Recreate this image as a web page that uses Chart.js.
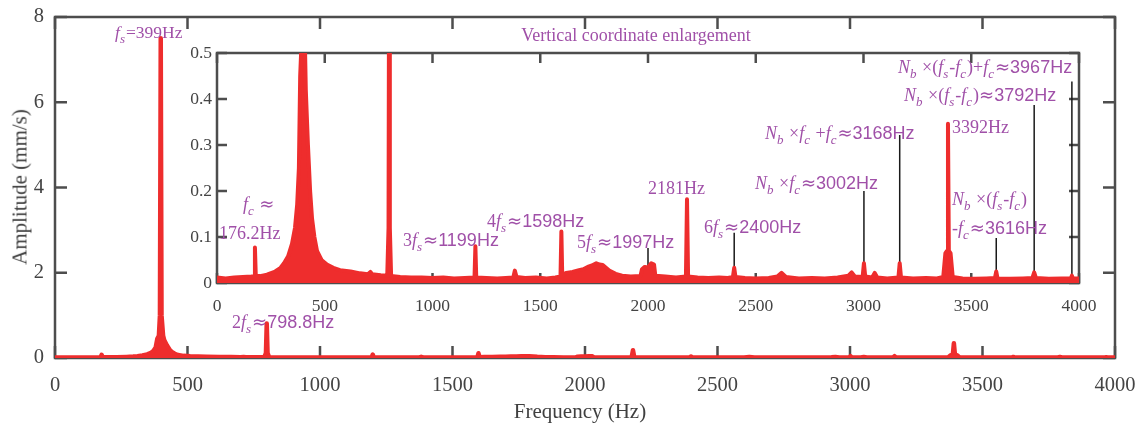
<!DOCTYPE html>
<html><head><meta charset="utf-8">
<script src="https://cdn.jsdelivr.net/npm/chart.js@4.4.1/dist/chart.umd.min.js"></script>
<style>
html,body{margin:0;padding:0;background:#fff;}
#wrap{position:relative;width:1140px;height:423px;overflow:hidden;background:#fff;}
canvas{position:absolute;left:0;top:0;}
.lbl{position:absolute;white-space:nowrap;color:#a050a8;font-family:'Liberation Serif',serif;font-size:18px;line-height:1;transform:translateY(-50%);}
.i{font-style:italic}
.sub{font-style:italic;font-size:13px;position:relative;top:5px;margin-right:1px}
.ss{font-family:'Liberation Sans',sans-serif}
.ap{font-family:'DejaVu Sans',sans-serif}
.ax{position:absolute;white-space:nowrap;color:#404040;font-family:'Liberation Serif',serif;font-size:21px;line-height:1;}
</style></head>
<body><div id="wrap">
<canvas id="main" width="1140" height="423"></canvas>
<canvas id="inset" width="1140" height="423"></canvas>

<div class="ax" style="left:580px;top:411px;transform:translate(-50%,-50%)">Frequency (Hz)</div>
<div class="ax" style="left:20px;top:187px;transform:translate(-50%,-50%) rotate(-90deg)">Amplitude (mm/s)</div>

<div class="lbl" style="left:636px;top:35px;transform:translate(-50%,-50%)">Vertical coordinate enlargement</div>

<div class="lbl" style="left:115px;top:33px;font-size:17.5px"><span class="i">f</span><span class="sub">s</span>=399Hz</div>
<div class="lbl" style="left:232px;top:322px">2<span class="i">f</span><span class="sub">s</span><span class="ap">≈</span><span class="ss">798.8Hz</span></div>
<div class="lbl" style="left:243px;top:204px"><span class="i">f</span><span class="sub">c</span> <span class="ap">≈</span></div>
<div class="lbl" style="left:219px;top:233px">176.2Hz</div>
<div class="lbl" style="left:403px;top:240px">3<span class="i">f</span><span class="sub">s</span><span class="ap">≈</span><span class="ss">1199Hz</span></div>
<div class="lbl" style="left:487px;top:221px">4<span class="i">f</span><span class="sub">s</span><span class="ap">≈</span><span class="ss">1598Hz</span></div>
<div class="lbl" style="left:577px;top:242px">5<span class="i">f</span><span class="sub">s</span><span class="ap">≈</span><span class="ss">1997Hz</span></div>
<div class="lbl" style="left:648px;top:188px">2181Hz</div>
<div class="lbl" style="left:704px;top:227px">6<span class="i">f</span><span class="sub">s</span><span class="ap">≈</span><span class="ss">2400Hz</span></div>
<div class="lbl" style="left:755px;top:183px"><span class="i">N</span><span class="sub">b</span> ×<span class="i">f</span><span class="sub">c</span><span class="ap">≈</span><span class="ss">3002Hz</span></div>
<div class="lbl" style="left:765px;top:133px"><span class="i">N</span><span class="sub">b</span> ×<span class="i">f</span><span class="sub">c</span> +<span class="i">f</span><span class="sub">c</span><span class="ap">≈</span><span class="ss">3168Hz</span></div>
<div class="lbl" style="left:952px;top:127px">3392Hz</div>
<div class="lbl" style="left:952px;top:199px"><span class="i">N</span><span class="sub">b</span> ×(<span class="i">f</span><span class="sub">s</span>-<span class="i">f</span><span class="sub">c</span>)</div>
<div class="lbl" style="left:952px;top:228px">-<span class="i">f</span><span class="sub">c</span><span class="ap">≈</span><span class="ss">3616Hz</span></div>
<div class="lbl" style="left:904px;top:95px"><span class="i">N</span><span class="sub">b</span> ×(<span class="i">f</span><span class="sub">s</span>-<span class="i">f</span><span class="sub">c</span>)<span class="ap">≈</span><span class="ss">3792Hz</span></div>
<div class="lbl" style="left:898px;top:67px"><span class="i">N</span><span class="sub">b</span> ×(<span class="i">f</span><span class="sub">s</span>-<span class="i">f</span><span class="sub">c</span>)+<span class="i">f</span><span class="sub">c</span><span class="ap">≈</span><span class="ss">3967Hz</span></div>
</div>
<script>
// ---- data ----
const freqHz = [
  0, 40, 80, 120, 160, 172, 176, 180, 200, 232, 270, 295, 311, 330, 348, 362, 372, 380, 386, 392, 396, 399,
  402, 408, 412, 422, 432, 441, 452, 464, 485, 510, 540, 571, 620, 664, 700, 712, 720, 760, 790, 796, 799,
  802, 808, 850, 900, 950, 1000, 1050, 1100, 1150, 1195, 1199, 1203, 1250, 1300, 1340, 1375, 1382, 1390,
  1430, 1480, 1530, 1570, 1594, 1598, 1602, 1620, 1650, 1680, 1700, 1720, 1740, 1760, 1775, 1790, 1805,
  1820, 1850, 1880, 1920, 1965, 1972, 1985, 2000, 2015, 2028, 2034, 2080, 2130, 2176, 2181, 2186, 2230,
  2280, 2330, 2370, 2394, 2400, 2406, 2450, 2500, 2560, 2600, 2620, 2640, 2700, 2760, 2820, 2880, 2930,
  2945, 2960, 2996, 3002, 3008, 3040, 3052, 3064, 3110, 3162, 3168, 3174, 3230, 3290, 3340, 3370, 3380,
  3388, 3392, 3396, 3404, 3414, 3460, 3520, 3570, 3610, 3616, 3622, 3680, 3740, 3784, 3792, 3800, 3860,
  3920, 3962, 3967, 3972, 4000
];
const amplitude = [
  0.012, 0.010, 0.012, 0.013, 0.014, 0.015, 0.077, 0.015, 0.015, 0.018, 0.025, 0.033, 0.043, 0.058, 0.085, 0.12, 0.17, 0.25, 0.45, 0.52, 1.0, 7.5,
  1.0, 0.52, 0.42, 0.3, 0.2, 0.14, 0.1, 0.07, 0.05, 0.04, 0.033, 0.028, 0.025, 0.021, 0.019, 0.024, 0.019, 0.017, 0.016, 0.12, 0.81,
  0.12, 0.015, 0.013, 0.012, 0.012, 0.011, 0.012, 0.010, 0.011, 0.012, 0.08, 0.012, 0.011, 0.010, 0.011, 0.012, 0.027, 0.013,
  0.011, 0.012, 0.010, 0.012, 0.014, 0.112, 0.016, 0.022, 0.024, 0.028, 0.030, 0.035, 0.038, 0.043, 0.040, 0.039, 0.033,
  0.027, 0.020, 0.016, 0.014, 0.015, 0.030, 0.035, 0.034, 0.043, 0.040, 0.016, 0.014, 0.012, 0.014, 0.182, 0.014, 0.012,
  0.011, 0.012, 0.011, 0.013, 0.033, 0.013, 0.011, 0.010, 0.011, 0.014, 0.022, 0.013, 0.010, 0.011, 0.010, 0.012, 0.016,
  0.023, 0.014, 0.013, 0.043, 0.014, 0.012, 0.022, 0.012, 0.010, 0.012, 0.043, 0.012, 0.010, 0.011, 0.010, 0.013, 0.065,
  0.070, 0.346, 0.070, 0.065, 0.013, 0.010, 0.009, 0.010, 0.011, 0.025, 0.010, 0.009, 0.010, 0.011, 0.023, 0.011, 0.009,
  0.010, 0.010, 0.016, 0.010, 0.010
];
// annotation leader lines in the enlarged view (frequency, lower end, upper end)
const leaderFreq   = [2000, 2400, 3002, 3168, 3616, 3792, 3967];
const leaderBottom = [0.035, 0.030, 0.040, 0.040, 0.022, 0.020, 0.014];
const leaderTop    = [0.076, 0.109, 0.200, 0.322, 0.098, 0.387, 0.438];

const xTicks      = [0, 500, 1000, 1500, 2000, 2500, 3000, 3500, 4000];
const mainYTicks  = [0, 2, 4, 6, 8];
const insetYTicks = [0, 0.1, 0.2, 0.3, 0.4, 0.5];

// ---- rendering ----
const RED = '#ee2d2d';
const AXIS = '#4d4d4d';
const TICKTXT = '#444444';
Chart.defaults.font.family = "'Liberation Serif', serif";
Chart.defaults.color = TICKTXT;

const spectrum = freqHz.map((f, i) => ({x: f, y: amplitude[i]}));
const leaders = [];
leaderFreq.forEach((f, i) => {
  leaders.push({x: f, y: leaderBottom[i]}, {x: f, y: leaderTop[i]}, {x: f, y: null});
});

const boxTicks = {
  id: 'boxTicks',
  beforeDatasetsDraw(chart, args, o) {
    const {ctx, chartArea: a, scales: {x, y}} = chart;
    ctx.save();
    ctx.strokeStyle = o.color; ctx.lineWidth = o.width; ctx.lineCap = 'butt';
    ctx.beginPath();
    x.ticks.forEach(t => {
      const p = x.getPixelForValue(t.value);
      ctx.moveTo(p, a.bottom); ctx.lineTo(p, a.bottom - o.len);
      ctx.moveTo(p, a.top); ctx.lineTo(p, a.top + o.len);
    });
    y.ticks.forEach(t => {
      const p = y.getPixelForValue(t.value);
      ctx.moveTo(a.left, p); ctx.lineTo(a.left + o.len, p);
      ctx.moveTo(a.right, p); ctx.lineTo(a.right - o.len, p);
    });
    ctx.stroke();
    ctx.strokeRect(a.left, a.top, a.right - a.left, a.bottom - a.top);
    ctx.restore();
  }
};

function noPad(s) { s.paddingLeft = 0; s.paddingRight = 0; s.paddingTop = 0; s.paddingBottom = 0; }

function makeChart(id, cfg) {
  return new Chart(document.getElementById(id), {
    type: 'line',
    data: {datasets: cfg.datasets},
    plugins: [boxTicks],
    options: {
      responsive: false, animation: false, devicePixelRatio: 1,
      layout: {padding: cfg.padding},
      plugins: {legend: {display: false}, tooltip: {enabled: false},
                boxTicks: {color: AXIS, width: 2.5, len: cfg.tickLen}},
      scales: {
        x: {type: 'linear', min: 0, max: 4000,
            afterBuildTicks: s => { s.ticks = xTicks.map(v => ({value: v})); },
            afterFit: s => { s.height = cfg.xHeight; noPad(s); },
            grid: {display: false, drawTicks: false}, border: {display: false},
            ticks: {padding: cfg.xPad, maxRotation: 0, autoSkip: false, font: {size: cfg.fs}, callback: v => String(v)}},
        y: {type: 'linear', min: cfg.yMin, max: cfg.yMax,
            afterBuildTicks: s => { s.ticks = cfg.yTicks.map(v => ({value: v})); },
            afterFit: s => { s.width = cfg.yWidth; noPad(s); },
            grid: {display: false, drawTicks: false}, border: {display: false},
            ticks: {padding: cfg.yPad, font: {size: cfg.fs}, callback: v => String(v)}}
      }
    }
  });
}

makeChart('main', {
  padding: {left: 0, top: 17, right: 25, bottom: 0},
  xHeight: 65, yWidth: 55, xPad: 15, yPad: 11, fs: 20.5, tickLen: 12,
  yMin: 0, yMax: 8, yTicks: mainYTicks,
  datasets: [{data: spectrum, borderColor: RED, backgroundColor: RED, borderWidth: 4.5,
              pointRadius: 0, fill: 'origin', tension: 0, borderJoinStyle: 'round'}]
});

makeChart('inset', {
  padding: {left: 150, top: 53, right: 61, bottom: 0},
  xHeight: 140, yWidth: 67, xPad: 13, yPad: 5, fs: 17.5, tickLen: 10,
  yMin: 0, yMax: 0.5, yTicks: insetYTicks,
  datasets: [
    {data: spectrum, borderColor: RED, backgroundColor: RED, borderWidth: 4,
     pointRadius: 0, fill: 'origin', tension: 0, borderJoinStyle: 'round', order: 0,
     clip: {left: 0, top: 0, right: 0, bottom: 0}},
    {data: leaders, borderColor: '#1a1a1a', borderWidth: 1.5, pointRadius: 0,
     fill: false, spanGaps: false, order: 1}
  ]
});
</script>
</body></html>
